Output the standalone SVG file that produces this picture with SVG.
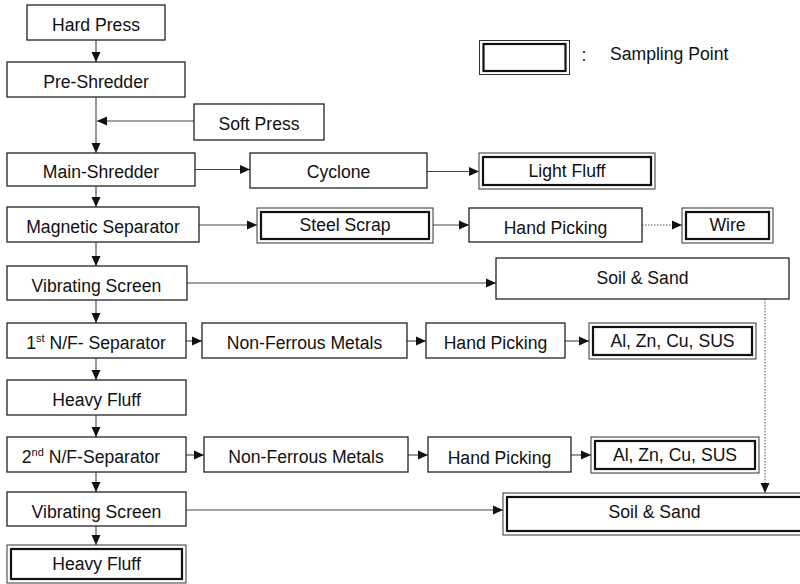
<svg xmlns="http://www.w3.org/2000/svg" width="800" height="584" viewBox="0 0 800 584">
<style>
  .b { fill: #fff; stroke: #222; stroke-width: 1.3; }
  .o { fill: #fff; stroke: #333; stroke-width: 1; }
  .i { fill: none; stroke: #111; stroke-width: 2.2; }
  text { font-family: "Liberation Sans", Arial, sans-serif; font-size: 17.6px; fill: #111; text-anchor: middle; transform: translateY(1px); }
  .c { fill: none; stroke: #444; stroke-width: 1.1; }
  .d { fill: none; stroke: #555; stroke-width: 1; stroke-dasharray: 1.5 1.5; }
  .sup { font-size: 11px; }
</style>
<defs>
  <marker id="ah" markerUnits="userSpaceOnUse" viewBox="0 0 10 10" markerWidth="10" markerHeight="10" refX="10" refY="5" orient="auto">
    <path d="M0,0.5 L10,5 L0,9.5 z" fill="#111"/>
  </marker>
</defs>
<rect width="800" height="584" fill="#fff"/>

<g id="connectors">
  <line class="c" x1="96" y1="40" x2="96" y2="62" marker-end="url(#ah)"/>
  <line class="c" x1="96" y1="97" x2="96" y2="153" marker-end="url(#ah)"/>
  <line class="c" x1="194" y1="121" x2="97" y2="121" marker-end="url(#ah)"/>
  <line class="c" x1="96" y1="186" x2="96" y2="207" marker-end="url(#ah)"/>
  <line class="c" x1="96" y1="242" x2="96" y2="266" marker-end="url(#ah)"/>
  <line class="c" x1="96" y1="300" x2="96" y2="323" marker-end="url(#ah)"/>
  <line class="c" x1="96" y1="358" x2="96" y2="380" marker-end="url(#ah)"/>
  <line class="c" x1="96" y1="415" x2="96" y2="437" marker-end="url(#ah)"/>
  <line class="c" x1="96" y1="472" x2="96" y2="492" marker-end="url(#ah)"/>
  <line class="c" x1="96" y1="526" x2="96" y2="545" marker-end="url(#ah)"/>

  <line class="c" x1="195" y1="169.5" x2="250" y2="169.5" marker-end="url(#ah)"/>
  <line class="c" x1="427" y1="171.5" x2="479" y2="171.5" marker-end="url(#ah)"/>
  <line class="c" x1="199" y1="225" x2="257" y2="225" marker-end="url(#ah)"/>
  <line class="c" x1="433" y1="225" x2="469" y2="225" marker-end="url(#ah)"/>
  <line class="d" x1="642" y1="225" x2="682" y2="225" marker-end="url(#ah)"/>
  <line class="c" x1="187" y1="283" x2="496" y2="283" marker-end="url(#ah)"/>
  <line class="c" x1="186" y1="341" x2="202" y2="341" marker-end="url(#ah)"/>
  <line class="c" x1="407" y1="341" x2="426" y2="341" marker-end="url(#ah)"/>
  <line class="c" x1="565" y1="341" x2="589" y2="341" marker-end="url(#ah)"/>
  <line class="c" x1="186" y1="455" x2="204" y2="455" marker-end="url(#ah)"/>
  <line class="c" x1="408" y1="455" x2="428" y2="455" marker-end="url(#ah)"/>
  <line class="c" x1="571" y1="455" x2="591" y2="455" marker-end="url(#ah)"/>
  <line class="c" x1="186" y1="510" x2="503" y2="510" marker-end="url(#ah)"/>
  <line class="d" x1="765" y1="299" x2="765" y2="493" marker-end="url(#ah)"/>
</g>

<g id="legend">
  <rect class="o" x="479.5" y="40.5" width="90" height="34"/>
  <rect class="i" x="483.5" y="44" width="82" height="27"/>
  <text x="584" y="60">:</text>
  <text x="610" y="59" style="text-anchor:start">Sampling Point</text>
</g>

<g id="hard-press"><rect class="b" x="27" y="5" width="138" height="35"/><text x="96" y="29.5">Hard Press</text></g>
<g id="pre-shredder"><rect class="b" x="7" y="62" width="178" height="35"/><text x="96" y="86.5">Pre-Shredder</text></g>
<g id="soft-press"><rect class="b" x="194" y="104" width="130" height="36"/><text x="259" y="129">Soft Press</text></g>
<g id="main-shredder"><rect class="b" x="7" y="153" width="188" height="33"/><text x="101" y="176.5">Main-Shredder</text></g>
<g id="cyclone"><rect class="b" x="250" y="153" width="177" height="35"/><text x="338.5" y="177">Cyclone</text></g>
<g id="light-fluff"><rect class="o" x="479" y="153" width="176" height="36"/><rect class="i" x="483" y="157" width="168" height="28"/><text x="567" y="175.5">Light Fluff</text></g>
<g id="magnetic-separator"><rect class="b" x="7" y="207" width="192" height="35"/><text x="103" y="231.5">Magnetic Separator</text></g>
<g id="steel-scrap"><rect class="o" x="257" y="208" width="176" height="35"/><rect class="i" x="261" y="212" width="168" height="27"/><text x="345" y="230">Steel Scrap</text></g>
<g id="hand-picking-1"><rect class="b" x="469" y="208" width="173" height="34"/><text x="555.5" y="232.5">Hand Picking</text></g>
<g id="wire"><rect class="o" x="682" y="208" width="91" height="35"/><rect class="i" x="686" y="212" width="83" height="27"/><text x="727.5" y="230">Wire</text></g>
<g id="vibrating-screen-1"><rect class="b" x="7" y="266" width="180" height="34"/><text x="96.5" y="290.5">Vibrating Screen</text></g>
<g id="soil-sand-1"><rect class="b" x="496" y="258" width="293" height="41"/><text x="642.5" y="283">Soil &amp; Sand</text></g>
<g id="nf-separator-1"><rect class="b" x="7" y="323" width="179" height="35"/><text x="96" y="348">1<tspan class="sup" dy="-7">st</tspan><tspan dy="7"> N/F- Separator</tspan></text></g>
<g id="non-ferrous-1"><rect class="b" x="202" y="323" width="205" height="35"/><text x="304.5" y="348">Non-Ferrous Metals</text></g>
<g id="hand-picking-2"><rect class="b" x="426" y="323" width="139" height="35"/><text x="495.5" y="348">Hand Picking</text></g>
<g id="al-zn-cu-sus-1"><rect class="o" x="589" y="323" width="167" height="36"/><rect class="i" x="593" y="327" width="159" height="28"/><text x="672.5" y="345.5">Al, Zn, Cu, SUS</text></g>
<g id="heavy-fluff-1"><rect class="b" x="7" y="380" width="179" height="35"/><text x="96.5" y="405">Heavy Fluff</text></g>
<g id="nf-separator-2"><rect class="b" x="7" y="437" width="179" height="35"/><text x="91" y="462">2<tspan class="sup" dy="-7">nd</tspan><tspan dy="7"> N/F-Separator</tspan></text></g>
<g id="non-ferrous-2"><rect class="b" x="204" y="437" width="204" height="35"/><text x="306" y="462">Non-Ferrous Metals</text></g>
<g id="hand-picking-3"><rect class="b" x="428" y="437" width="143" height="35"/><text x="499.5" y="462.5">Hand Picking</text></g>
<g id="al-zn-cu-sus-2"><rect class="o" x="591" y="437" width="168" height="36"/><rect class="i" x="595" y="441" width="160" height="28"/><text x="675" y="460">Al, Zn, Cu, SUS</text></g>
<g id="vibrating-screen-2"><rect class="b" x="7" y="492" width="179" height="34"/><text x="96.5" y="516.5">Vibrating Screen</text></g>
<g id="soil-sand-2"><rect class="o" x="503" y="493" width="303" height="42"/><rect class="i" x="507" y="497" width="295" height="34"/><text x="654.5" y="517">Soil &amp; Sand</text></g>
<g id="heavy-fluff-2"><rect class="o" x="7" y="545" width="179" height="38"/><rect class="i" x="11" y="549" width="171" height="30"/><text x="96.5" y="568.5">Heavy Fluff</text></g>
</svg>
